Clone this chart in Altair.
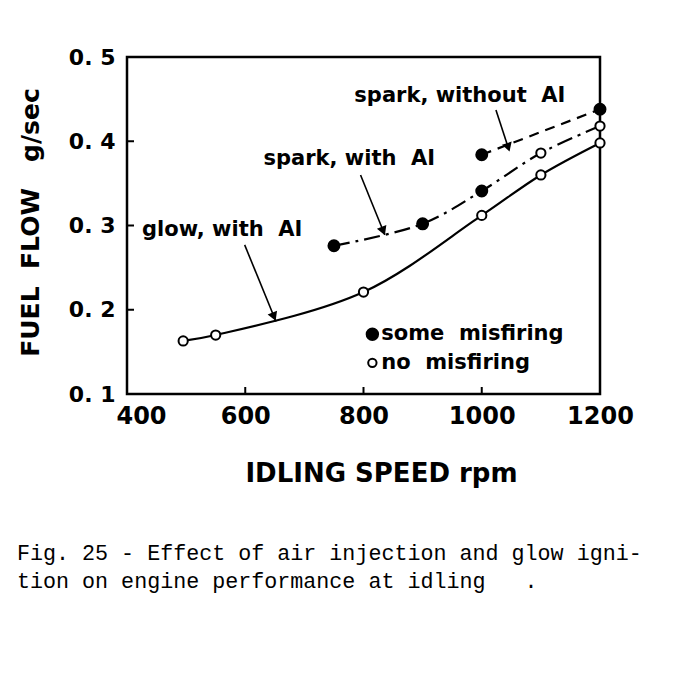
import altair as alt
import pandas as pd

NB = "\u00a0"

# ---------------- data ----------------
rpm_ticks = [400, 600, 800, 1000, 1200]
flow_ticks = [0.1, 0.2, 0.3, 0.4, 0.5]
inner_x_ticks = [600, 800, 1000]
inner_y_ticks = [0.2, 0.3, 0.4]

glow_rpm = [495, 550, 800, 1000, 1100, 1200]
glow_flow = [0.163, 0.170, 0.221, 0.312, 0.360, 0.398]
glow_misfire = [False, False, False, False, False, False]

spark_ai_rpm = [750, 900, 1000, 1100, 1200]
spark_ai_flow = [0.276, 0.302, 0.341, 0.386, 0.418]
spark_ai_misfire = [True, True, True, False, False]

spark_noai_rpm = [1000, 1200]
spark_noai_flow = [0.384, 0.438]
spark_noai_misfire = [True, True]

# annotation labels (anchored in data units)
label_text = ["glow, with" + NB + " AI", "spark, with" + NB + " AI", "spark, without" + NB + " AI"]
label_rpm = [561, 776, 963]
label_flow = [0.295, 0.379, 0.454]

arrow_rpm = [599, 795, 1024]
arrow_flow = [0.277, 0.360, 0.437]
arrow_rpm2 = [652, 836, 1046]
arrow_flow2 = [0.186, 0.289, 0.390]
arrow_angle = [158, 158, 162]

legend_text = ["some" + NB + " misfiring", "no" + NB + " misfiring"]
legend_filled = [True, False]
legend_rpm = [815, 815]
legend_text_rpm = [830, 830]
legend_flow = [0.171, 0.137]

caption = [
    "Fig. 25 - Effect of air injection and glow igni-",
    "tion on engine performance at idling" + NB + NB + NB + ".",
]

x_title = "IDLING SPEED rpm"
y_title = "FUEL" + NB + " FLOW" + NB + NB + " g/sec"

FONT = "DejaVu Sans"

# ---------------- frames ----------------
glow = pd.DataFrame({"rpm": glow_rpm, "flow": glow_flow, "misfire": glow_misfire})
spark_ai = pd.DataFrame({"rpm": spark_ai_rpm, "flow": spark_ai_flow, "misfire": spark_ai_misfire})
spark_noai = pd.DataFrame({"rpm": spark_noai_rpm, "flow": spark_noai_flow, "misfire": spark_noai_misfire})
points = pd.concat([glow, spark_ai, spark_noai], ignore_index=True)

labels = pd.DataFrame({"text": label_text, "rpm": label_rpm, "flow": label_flow})
arrows = pd.DataFrame({"rpm": arrow_rpm, "flow": arrow_flow, "rpm2": arrow_rpm2,
                       "flow2": arrow_flow2, "ang": arrow_angle})
arrows["hrpm"] = arrows["rpm2"] - 0.07 * (arrows["rpm2"] - arrows["rpm"])
arrows["hflow"] = arrows["flow2"] - 0.07 * (arrows["flow2"] - arrows["flow"])
legend = pd.DataFrame({"text": legend_text, "filled": legend_filled, "rpm": legend_rpm,
                       "trpm": legend_text_rpm, "flow": legend_flow})

x_scale = alt.Scale(domain=[400, 1200], nice=False, zero=False)
y_scale = alt.Scale(domain=[0.1, 0.5], nice=False, zero=False)

x_axis = alt.Axis(
    values=rpm_ticks, title=x_title, ticks=False, domain=False, grid=False, format="d",
    labelFont=FONT, labelFontSize=24, labelFontWeight="bold", labelColor="black",
    labelPadding=10, labelFlush=False,
    labelOffset={"condition": {"test": "datum.value == 400", "value": 14}, "value": 0},
    titleFont=FONT, titleFontSize=26, titleFontWeight="bold", titleColor="black",
    titleX=254, titleY=87, titleAlign="center", titleBaseline="alphabetic",
)
y_axis = alt.Axis(
    values=flow_ticks, title=y_title, ticks=False, domain=False, grid=False,
    labelFont=FONT, labelFontSize=22, labelFontWeight="bold", labelColor="black",
    labelPadding=12, labelExpr="replace(format(datum.value, '.1f'), '.', '. ')",
    titleFont=FONT, titleFontSize=25, titleFontWeight="bold", titleColor="black",
    titleX=-97, titleY=165, titleAngle=270, titleAlign="center", titleBaseline="middle",
)

X = alt.X("rpm:Q", scale=x_scale, axis=x_axis)
Y = alt.Y("flow:Q", scale=y_scale, axis=y_axis)

glow_line = alt.Chart(glow).mark_line(color="black", strokeWidth=2.2, interpolate="catmull-rom").encode(x=X, y=Y)
spark_ai_line = alt.Chart(spark_ai).mark_line(
    color="black", strokeWidth=2.2, interpolate="catmull-rom", strokeDash=[16, 6, 3, 6]
).encode(x=X, y=Y)
spark_noai_line = alt.Chart(spark_noai).mark_line(
    color="black", strokeWidth=2.2, strokeDash=[10, 7]
).encode(x=X, y=Y)

filled_pts = alt.Chart(points).transform_filter("datum.misfire").mark_point(
    shape="circle", filled=True, fill="black", stroke="black", size=120, opacity=1
).encode(x=X, y=Y)
open_pts = alt.Chart(points).transform_filter("!datum.misfire").mark_point(
    shape="circle", filled=True, fill="white", stroke="black", strokeWidth=2, size=85, opacity=1
).encode(x=X, y=Y)

label_layer = alt.Chart(labels).mark_text(
    font=FONT, fontSize=21, fontWeight="bold", color="black", align="center", baseline="middle"
).encode(x=X, y=Y, text="text:N")

arrow_lines = alt.Chart(arrows).mark_rule(color="black", strokeWidth=1.6).encode(
    x=X, y=Y, x2="rpm2:Q", y2="flow2:Q"
)
arrow_heads = alt.Chart(arrows).mark_point(
    shape="triangle-up", filled=True, fill="black", stroke="black", size=45, opacity=1
).encode(
    x=alt.X("hrpm:Q", scale=x_scale, axis=x_axis),
    y=alt.Y("hflow:Q", scale=y_scale, axis=y_axis),
    angle=alt.Angle("ang:Q", scale=None),
)

legend_filled_pt = alt.Chart(legend).transform_filter("datum.filled").mark_point(
    shape="circle", filled=True, fill="black", stroke="black", size=130, opacity=1
).encode(x=X, y=Y)
legend_open_pt = alt.Chart(legend).transform_filter("!datum.filled").mark_point(
    shape="circle", filled=True, fill="white", stroke="black", strokeWidth=2, size=70, opacity=1
).encode(x=X, y=Y)
legend_txt = alt.Chart(legend).mark_text(
    font=FONT, fontSize=21, fontWeight="bold", color="black", align="left", baseline="middle"
).encode(x=alt.X("trpm:Q", scale=x_scale, axis=x_axis), y=Y, text="text:N")

xt = alt.Chart(pd.DataFrame({"rpm": inner_x_ticks})).mark_rule(color="black", strokeWidth=2).encode(
    x=X, y=alt.value(337), y2=alt.value(330)
)
yt = alt.Chart(pd.DataFrame({"flow": inner_y_ticks})).mark_rule(color="black", strokeWidth=2).encode(
    y=Y, x=alt.value(0), x2=alt.value(7)
)

chart = alt.layer(
    xt, yt, glow_line, spark_ai_line, spark_noai_line, arrow_lines, arrow_heads,
    filled_pts, open_pts, label_layer, legend_filled_pt, legend_open_pt, legend_txt,
).properties(
    width=473,
    height=337,
    background="white",
    autosize=alt.AutoSizeParams(type="none"),
    padding={"left": 119, "top": 49, "right": 90, "bottom": 260},
    title=alt.TitleParams(
        text=caption, orient="bottom", anchor="start", frame="group",
        font="Liberation Mono", fontSize=21.7, fontWeight="normal", color="black",
        dx=-110, offset=57, lineHeight=28,
    ),
).configure_view(stroke="black", strokeWidth=2.5)

chart.save("out.html", embed_options={"renderer": "svg", "actions": False})
